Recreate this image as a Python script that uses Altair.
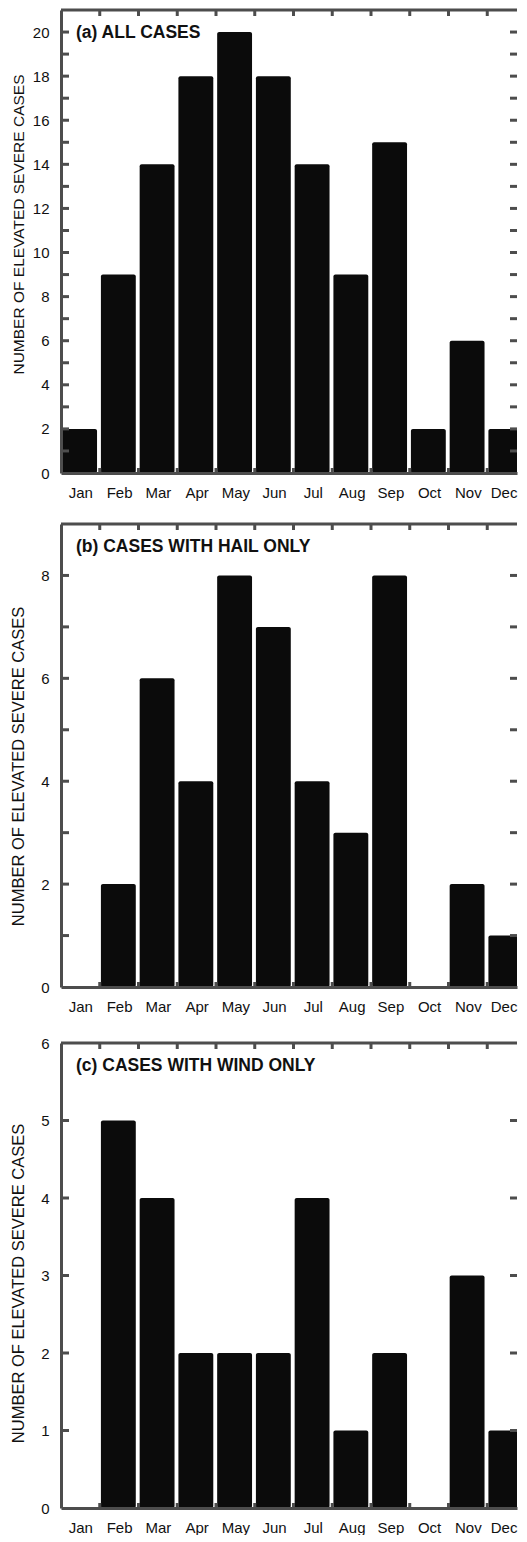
import altair as alt
import pandas as pd

# ---- data ----
MONTHS = ["Jan", "Feb", "Mar", "Apr", "May", "Jun", "Jul", "Aug", "Sep", "Oct", "Nov", "Dec"]
ALL_CASES = [2, 9, 14, 18, 20, 18, 14, 9, 15, 2, 6, 2]
HAIL_ONLY = [0, 2, 6, 4, 8, 7, 4, 3, 8, 0, 2, 1]
WIND_ONLY = [0, 5, 4, 2, 2, 2, 4, 1, 2, 0, 3, 1]
PANEL_TITLES = ["(a) ALL CASES", "(b) CASES WITH HAIL ONLY", "(c) CASES WITH WIND ONLY"]
Y_MAX = [21, 9, 6]
Y_LABEL_STEP = [2, 2, 1]
Y_TITLE = "NUMBER OF ELEVATED SEVERE CASES"

# ---- styling / layout ----
W_FULL = 465          # full plot width of the original (its right edge is cut off)
W = 456               # visible plot width
HEIGHTS = [463, 463, 465]
X_MAX = len(MONTHS) * W / W_FULL
GREY = "#4d4d4d"
BAR = "#0b0b0b"
FONT = "Liberation Sans"

month_expr = "[" + ",".join("'%s'" % m for m in MONTHS) + "][floor(datum.value)]"


def panel(values, title, ymax, lstep, H, title_y, title_size):
    df = pd.DataFrame({"month": MONTHS, "idx": list(range(len(MONTHS))), "count": values})
    xs = alt.Scale(domain=[0, X_MAX], nice=False, zero=False)
    ys = alt.Scale(domain=[0, ymax], nice=False)

    x_axis = alt.Axis(
        values=[i + 0.5 for i in range(len(MONTHS))],
        labelExpr=month_expr,
        ticks=False,
        tickSize=0,
        grid=False,
        labelFlush=False,
        labelPadding=12,
        labelFontSize=15,
        labelOffset={"condition": {"test": "datum.value > 11", "value": -3}, "value": 0},
        labelColor="#111111",
        labelFont=FONT,
        domainColor=GREY,
        domainWidth=3,
        zindex=1,
        title=None,
    )
    y_axis = alt.Axis(
        values=list(range(0, ymax + 1, lstep)),
        ticks=False,
        tickSize=0,
        grid=False,
        labelPadding=12,
        labelFontSize=15,
        labelColor="#111111",
        labelFont=FONT,
        domainColor=GREY,
        domainWidth=3,
        zindex=1,
        title=Y_TITLE,
        titleFont=FONT,
        titleFontSize=title_size,
        titleFontWeight="normal",
        titleColor="#111111",
        titleX=-35,
        titleY=title_y,
    )

    bars = (
        alt.Chart(df)
        .transform_calculate(x0="datum.idx + 0.03", x1="datum.idx + 0.93", base="0")
        .mark_bar(color=BAR, cornerRadius=2, clip=True)
        .encode(
            x=alt.X("x0:Q", scale=xs, axis=x_axis),
            x2="x1:Q",
            y=alt.Y("count:Q", scale=ys, axis=y_axis),
            y2="base:Q",
        )
    )

    ytick_df = pd.DataFrame({"v": list(range(1, ymax))})
    xtick_df = pd.DataFrame({"b": list(range(1, len(MONTHS)))})

    left_ticks = alt.Chart(ytick_df).mark_rule(color=GREY, strokeWidth=3).encode(
        y=alt.Y("v:Q", scale=ys, axis=y_axis), x=alt.value(0), x2=alt.value(8)
    )
    right_ticks = alt.Chart(ytick_df).mark_rule(color=GREY, strokeWidth=3).encode(
        y=alt.Y("v:Q", scale=ys, axis=y_axis), x=alt.value(W - 7), x2=alt.value(W)
    )
    top_ticks = alt.Chart(xtick_df).mark_rule(color=GREY, strokeWidth=3).encode(
        x=alt.X("b:Q", scale=xs, axis=x_axis), y=alt.value(0), y2=alt.value(6)
    )
    bottom_ticks = alt.Chart(xtick_df).mark_rule(color=GREY, strokeWidth=3).encode(
        x=alt.X("b:Q", scale=xs, axis=x_axis), y=alt.value(H - 5), y2=alt.value(H)
    )
    top_frame = alt.Chart(xtick_df.head(1)).mark_rule(color=GREY, strokeWidth=3).encode(
        x=alt.value(0), x2=alt.value(W), y=alt.value(0)
    )
    label = alt.Chart(pd.DataFrame({"t": [title]})).mark_text(
        align="left", baseline="middle", fontWeight="bold", fontSize=17.5, font=FONT, color="#111111"
    ).encode(text="t:N", x=alt.value(15), y=alt.value(23))

    return alt.layer(
        bars, left_ticks, right_ticks, top_ticks, bottom_ticks, top_frame, label
    ).properties(width=W, height=H)


pa = panel(ALL_CASES, PANEL_TITLES[0], Y_MAX[0], Y_LABEL_STEP[0], HEIGHTS[0], 214, 15.5)
pb = panel(HAIL_ONLY, PANEL_TITLES[1], Y_MAX[1], Y_LABEL_STEP[1], HEIGHTS[1], 242, 16.5)
pc = panel(WIND_ONLY, PANEL_TITLES[2], Y_MAX[2], Y_LABEL_STEP[2], HEIGHTS[2], 240, 16.5)

chart = (
    alt.vconcat(pa, pb, pc, spacing=22, background="white")
    .properties(padding={"left": 2, "top": 0, "right": 0, "bottom": 0})
    .configure_view(strokeWidth=0)
)

chart.save("out.html", embed_options={"renderer": "svg", "actions": False})
